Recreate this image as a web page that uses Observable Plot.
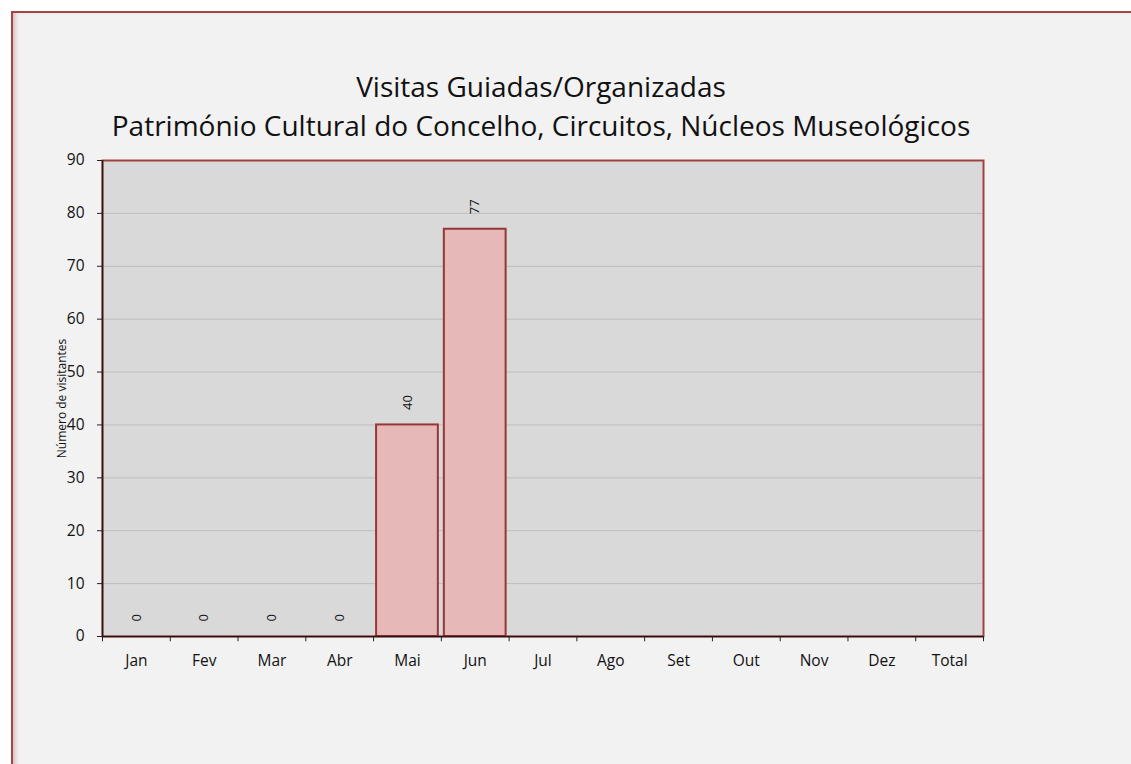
<!DOCTYPE html>
<html>
<head>
<meta charset="utf-8">
<script src="https://cdn.jsdelivr.net/npm/d3@7"></script>
<script src="https://cdn.jsdelivr.net/npm/@observablehq/plot@0.6"></script>
<style>
  html, body { margin: 0; padding: 0; background: #ffffff; }
  #page { position: relative; width: 1131px; height: 764px; overflow: hidden; font-family: "Open Sans", sans-serif; }
  #frame { position: absolute; left: 11px; top: 11px; width: 1200px; height: 820px; background: #F2F2F2;
           border: 2px solid #A34545; box-shadow: inset 5px 0 5px -3px rgba(170,70,70,0.35); }
  #title { position: absolute; left: 0; top: 0; width: 1131px; height: 145px; }
  #title div { position: absolute; left: 0; width: 1082px; text-align: center; color: #111; font-size: 28px; line-height: 1; }
  #chart { position: absolute; left: 0; top: 145px; }
</style>
</head>
<body>
<div id="page">
  <div id="frame"></div>
  <div id="title">
    <div id="t1" style="top:72px">Visitas Guiadas/Organizadas</div>
    <div id="t2" style="top:111px">Património Cultural do Concelho, Circuitos, Núcleos Museológicos</div>
  </div>
  <div id="chart"></div>
</div>
<script>
const months = ["Jan","Fev","Mar","Abr","Mai","Jun","Jul","Ago","Set","Out","Nov","Dez","Total"];
const visitors = [0, 0, 0, 0, 40, 77, null, null, null, null, null, null, null];
const yTicks = [0, 10, 20, 30, 40, 50, 60, 70, 80, 90];
const yLabel = "Número de visitantes";

const data = months.map((m, i) => ({month: m, value: visitors[i]}));
const shown = data.filter(d => d.value != null);

const W = 1131, H = 619, ML = 102, MR = 148, MT = 15, MB = 128;
const step = (W - ML - MR) / months.length;
const font = "Open Sans, sans-serif";

const chart = Plot.plot({
  width: W, height: H,
  marginLeft: ML, marginRight: MR, marginTop: MT, marginBottom: MB,
  style: {background: "transparent", fontFamily: font, color: "#111", overflow: "visible"},
  x: {domain: months, padding: 0, round: false},
  y: {domain: [0, 90]},
  marks: [
    Plot.frame({fill: "#D9D9D9"}),
    Plot.ruleY(yTicks.filter(t => t > 0 && t < 90), {stroke: "#BDBDBD", strokeWidth: 1}),
    Plot.frame({stroke: "#A34040", strokeWidth: 2}),
    Plot.barY(shown, {x: "month", y: "value", fill: "#E6B9B8", stroke: "#953735", strokeWidth: 2, insetLeft: 3, insetRight: 3}),
    Plot.ruleY([0], {stroke: "#2b1414", strokeWidth: 1.5}),
    Plot.ruleX([months[0]], {dx: -step / 2, stroke: "#2b1414", strokeWidth: 1.5}),
    Plot.ruleX(months, {x: d => d, y1: 0, y2: -1, dx: -step / 2, stroke: "#222"}),
    Plot.ruleX([months[months.length - 1]], {y1: 0, y2: -1, dx: step / 2, stroke: "#222"}),
    Plot.axisY({ticks: yTicks, tickSize: 5, tickPadding: 13, fontSize: 15.5, label: null, stroke: "#222"}),
    Plot.axisX({tickSize: 0, tickPadding: 18, fontSize: 15.5, label: null}),
    Plot.text(shown, {x: "month", y: "value", text: d => String(d.value), rotate: -90, textAnchor: "start", dy: -15, fontSize: 13, fill: "#111"}),
    Plot.text([yLabel], {frameAnchor: "left", rotate: -90, textAnchor: "middle", dx: -40, fontSize: 12, fill: "#111"})
  ]
});
document.getElementById("chart").appendChild(chart);
</script>
</body>
</html>
